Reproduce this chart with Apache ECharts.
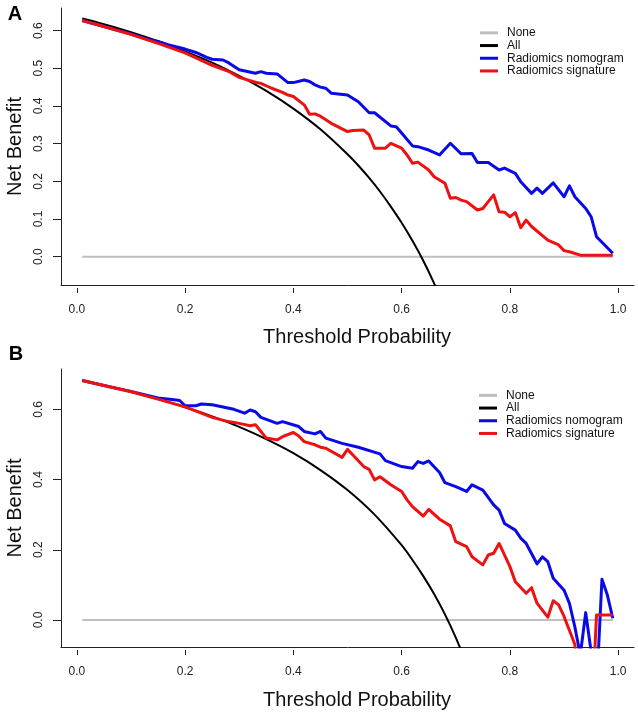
<!DOCTYPE html>
<html><head><meta charset="utf-8">
<script src="https://cdn.jsdelivr.net/npm/echarts@6/dist/echarts.min.js"></script>
<style>html,body{margin:0;padding:0;background:#fff}#c{width:638px;height:715px}</style>
</head><body><div id="c"></div>
<script>
// ---------- data ----------
const xTicks = [0, 0.2, 0.4, 0.6, 0.8, 1.0];
const yTicksA = [0, 0.1, 0.2, 0.3, 0.4, 0.5, 0.6];
const yTicksB = [0, 0.2, 0.4, 0.6];
const names = ['None', 'All', 'Radiomics nomogram', 'Radiomics signature'];

const noneX = [0.01, 0.99];
const noneY = [0, 0];

// Panel A
const allAX = [0.01,0.05,0.10,0.15,0.20,0.25,0.30,0.35,0.40,0.45,0.50,0.52,0.54,0.56,0.58,0.60,0.62,0.64,0.66,0.68];
const allAY = [0.632,0.617,0.596,0.572,0.545,0.515,0.480,0.440,0.393,0.338,0.272,0.242,0.209,0.173,0.133,0.090,0.042,-0.011,-0.071,-0.138];
const nomoAX = [0.01,0.05,0.10,0.13,0.15,0.17,0.20,0.22,0.24,0.25,0.27,0.28,0.30,0.33,0.34,0.35,0.37,0.39,0.40,0.42,0.43,0.44,0.45,0.46,0.47,0.50,0.52,0.54,0.55,0.58,0.59,0.60,0.62,0.63,0.65,0.67,0.69,0.71,0.73,0.74,0.76,0.78,0.79,0.81,0.82,0.84,0.85,0.86,0.88,0.90,0.91,0.92,0.94,0.95,0.96,0.99];
const nomoAY = [0.627,0.611,0.591,0.577,0.571,0.562,0.551,0.542,0.529,0.524,0.522,0.515,0.496,0.487,0.491,0.487,0.485,0.462,0.462,0.469,0.465,0.456,0.450,0.447,0.434,0.429,0.411,0.382,0.382,0.347,0.345,0.328,0.294,0.292,0.283,0.270,0.301,0.273,0.274,0.250,0.250,0.230,0.235,0.221,0.199,0.168,0.182,0.168,0.196,0.159,0.188,0.159,0.128,0.106,0.053,0.009];
const sigAX = [0.01,0.05,0.10,0.15,0.20,0.25,0.28,0.30,0.33,0.34,0.36,0.38,0.39,0.40,0.42,0.43,0.44,0.45,0.47,0.50,0.51,0.53,0.54,0.55,0.57,0.58,0.60,0.61,0.62,0.63,0.65,0.66,0.68,0.69,0.70,0.71,0.72,0.74,0.75,0.76,0.77,0.78,0.79,0.80,0.81,0.82,0.83,0.84,0.87,0.89,0.90,0.91,0.93,0.99];
const sigAY = [0.627,0.611,0.590,0.566,0.541,0.508,0.492,0.476,0.463,0.460,0.447,0.436,0.429,0.425,0.403,0.378,0.379,0.373,0.354,0.332,0.335,0.336,0.323,0.288,0.288,0.301,0.288,0.270,0.248,0.251,0.230,0.212,0.195,0.155,0.157,0.150,0.146,0.124,0.128,0.146,0.164,0.119,0.118,0.106,0.117,0.077,0.097,0.080,0.044,0.031,0.016,0.013,0.004,0.004];

// Panel B
const allBX = [0.01,0.05,0.10,0.15,0.20,0.25,0.30,0.35,0.40,0.45,0.50,0.55,0.60,0.62,0.64,0.66,0.68,0.70,0.72];
const allBY = [0.682,0.668,0.650,0.629,0.606,0.580,0.550,0.515,0.475,0.427,0.370,0.300,0.213,0.171,0.125,0.074,0.016,-0.050,-0.125];
const nomoBX = [0.01,0.05,0.10,0.15,0.18,0.19,0.20,0.22,0.23,0.25,0.29,0.31,0.32,0.33,0.34,0.37,0.38,0.41,0.42,0.44,0.45,0.46,0.49,0.52,0.56,0.57,0.60,0.62,0.63,0.64,0.65,0.67,0.68,0.70,0.72,0.73,0.75,0.77,0.78,0.79,0.81,0.82,0.83,0.85,0.86,0.87,0.88,0.90,0.91,0.92,0.93,0.94,0.95,0.96,0.97,0.98,0.99];
const nomoBY = [0.682,0.668,0.651,0.632,0.627,0.625,0.610,0.610,0.615,0.613,0.600,0.589,0.598,0.593,0.577,0.560,0.565,0.551,0.537,0.530,0.537,0.518,0.503,0.492,0.473,0.454,0.437,0.432,0.451,0.446,0.453,0.420,0.391,0.380,0.366,0.385,0.370,0.328,0.313,0.275,0.256,0.233,0.218,0.160,0.180,0.166,0.119,0.085,0.047,-0.020,-0.100,0.021,-0.090,-0.200,0.116,0.071,0.005];
const sigBX = [0.01,0.05,0.10,0.15,0.20,0.23,0.25,0.28,0.30,0.32,0.33,0.35,0.37,0.38,0.40,0.41,0.42,0.44,0.45,0.46,0.49,0.50,0.51,0.53,0.54,0.55,0.56,0.58,0.60,0.61,0.62,0.64,0.65,0.67,0.69,0.70,0.72,0.73,0.75,0.76,0.77,0.78,0.80,0.81,0.83,0.84,0.85,0.87,0.88,0.89,0.90,0.91,0.92,0.93,0.94,0.95,0.96,0.99];
const sigBY = [0.682,0.668,0.650,0.629,0.607,0.589,0.577,0.565,0.560,0.553,0.556,0.518,0.513,0.522,0.534,0.524,0.508,0.499,0.492,0.489,0.463,0.486,0.470,0.437,0.429,0.399,0.408,0.385,0.366,0.342,0.323,0.296,0.315,0.287,0.268,0.223,0.209,0.180,0.157,0.185,0.190,0.218,0.152,0.109,0.076,0.092,0.048,0.008,0.055,0.043,0.010,-0.030,-0.070,-0.300,-0.300,-0.300,0.014,0.014];

// ---------- chart ----------
const FONT = '"Liberation Sans", Arial, sans-serif';
const zip = (xs, ys) => xs.map((x, i) => [x, ys[i]]);
const colors = { 'None': '#bebebe', 'All': '#000000', 'Radiomics nomogram': '#0a0ae8', 'Radiomics signature': '#ee1111' };
const widths = { 'None': 2, 'All': 2, 'Radiomics nomogram': 3, 'Radiomics signature': 3 };

function mkSeries(name, xs, ys, gi, smooth) {
  return {
    type: 'line', name, data: zip(xs, ys), xAxisIndex: gi * 2, yAxisIndex: gi,
    showSymbol: false, symbol: 'none', smooth: smooth ? 0.3 : false, clip: true,
    itemStyle: { color: colors[name] },
    lineStyle: { color: colors[name], width: widths[name], cap: 'butt', join: 'round' },
    emphasis: { disabled: true }, animation: false, z: 2
  };
}

function boxX(gi) {
  return { type: 'value', gridIndex: gi, min: -0.0292, max: 1.0292,
    axisLine: { show: true, onZero: false, lineStyle: { color: '#222', width: 1 } },
    axisTick: { show: false }, axisLabel: { show: false }, splitLine: { show: false } };
}
function tickX(gi) {
  return { type: 'value', gridIndex: gi, min: -0.0292, max: 1.0292, position: 'bottom', offset: 3,
    axisLine: { show: false, onZero: false },
    axisTick: { show: true, length: 5, customValues: xTicks, lineStyle: { color: '#222', width: 1 } },
    axisLabel: { show: true, customValues: xTicks, margin: 16, fontSize: 12, color: '#222', fontFamily: FONT,
      formatter: v => v.toFixed(1) },
    splitLine: { show: false } };
}
function yAx(gi, min, max, ticks) {
  return { type: 'value', gridIndex: gi, min, max,
    name: 'Net Benefit', nameLocation: 'middle', nameGap: 36,
    nameTextStyle: { fontSize: 20, color: '#111', fontFamily: FONT },
    axisLine: { show: true, onZero: false, lineStyle: { color: '#222', width: 1 } },
    axisTick: { show: true, length: 8, customValues: ticks, lineStyle: { color: '#222', width: 1 } },
    axisLabel: { show: true, customValues: ticks, rotate: 90, margin: 16, fontSize: 12, color: '#222', fontFamily: FONT,
      formatter: v => v.toFixed(1) },
    splitLine: { show: false } };
}
function legend(left, top) {
  return { data: names, orient: 'vertical', left, top, itemGap: 0, itemWidth: 18, itemHeight: 3,
    icon: 'rect', padding: 0, selectedMode: false,
    textStyle: { fontSize: 12, color: '#111', fontFamily: FONT, lineHeight: 12.7, padding: [0, 0, 0, 4] } };
}

const option = {
  backgroundColor: '#ffffff',
  animation: false,
  grid: [
    { left: 61, right: 4, top: 8, height: 277, containLabel: false, outerBoundsMode: 'none' },
    { left: 61, right: 4, top: 369, height: 278, containLabel: false, outerBoundsMode: 'none' }
  ],
  xAxis: [boxX(0), tickX(0), boxX(1), tickX(1)],
  yAxis: [yAx(0, -0.0752, 0.660, yTicksA), yAx(1, -0.0769, 0.7148, yTicksB)],
  legend: [legend(480, 26.5), legend(479, 389)],
  graphic: [
    { type: 'text', x: 15, y: 14, style: { text: 'A', font: 'bold 20px ' + FONT, fill: '#000', align: 'center', verticalAlign: 'middle' } },
    { type: 'text', x: 16, y: 354, style: { text: 'B', font: 'bold 20px ' + FONT, fill: '#000', align: 'center', verticalAlign: 'middle' } },
    { type: 'text', x: 357, y: 337, style: { text: 'Threshold Probability', font: '20px ' + FONT, fill: '#111', align: 'center', verticalAlign: 'middle' } },
    { type: 'text', x: 357, y: 700, style: { text: 'Threshold Probability', font: '20px ' + FONT, fill: '#111', align: 'center', verticalAlign: 'middle' } }
  ],
  series: [
    mkSeries('None', noneX, noneY, 0, false),
    mkSeries('All', allAX, allAY, 0, true),
    mkSeries('Radiomics nomogram', nomoAX, nomoAY, 0, false),
    mkSeries('Radiomics signature', sigAX, sigAY, 0, false),
    mkSeries('None', noneX, noneY, 1, false),
    mkSeries('All', allBX, allBY, 1, true),
    mkSeries('Radiomics nomogram', nomoBX, nomoBY, 1, false),
    mkSeries('Radiomics signature', sigBX, sigBY, 1, false)
  ]
};
const chart = echarts.init(document.getElementById('c'), null, { renderer: 'canvas' });
chart.setOption(option);
</script>
</body></html>
